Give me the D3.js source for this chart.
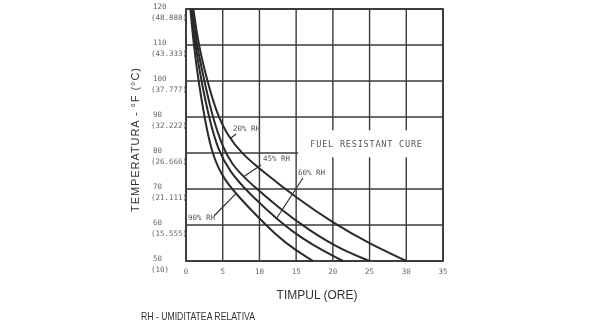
<!DOCTYPE html>
<html>
<head>
<meta charset="utf-8">
<script src="https://cdn.jsdelivr.net/npm/d3@7/dist/d3.min.js"></script>
<style>
  html, body { margin: 0; padding: 0; background: #fff; }
  svg { display: block; }
</style>
</head>
<body>
<svg id="chart" width="605" height="330"></svg>
<script>
// Cure time (hours) vs. temperature (°F) for several relative humidities
const hourTicks = [0, 5, 10, 15, 20, 25, 30, 35];
const tempTicksF = [50, 60, 70, 80, 90, 100, 110, 120];
const tempTicksC = ["(10)", "(15.555)", "(21.111)", "(26.666)", "(32.222)", "(37.777)", "(43.333)", "(48.888)"];

const seriesNames = ["20% RH", "45% RH", "60% RH", "90% RH"];
const rh20 = [[1.0,120],[1.7,110],[2.9,100],[4.1,91.5],[5.6,85],[7.6,79.8],[10.5,74.8],[15,67.6],[20,60.6],[25,54.8],[30,50]];
const rh45 = [[0.85,120],[1.45,110],[2.5,100],[3.6,90],[5.0,81.5],[6.3,76.8],[7.8,73.3],[12.8,64.4],[17,58.2],[21,53.3],[25,50]];
const rh60 = [[0.7,120],[1.25,110],[2.1,100],[3.1,90],[4.4,80.5],[6,74.8],[8.3,69.3],[12.8,60.8],[16,56],[18.7,52.8],[21.4,50]];
const rh90 = [[0.6,120],[1.05,110],[1.7,100],[2.5,90],[3.5,80],[5,72.8],[8.3,65.3],[12.4,56.9],[14.85,53.1],[17.3,50]];
const seriesValues = [rh20, rh45, rh60, rh90];

const boxText = "FUEL RESISTANT CURE";
const xTitle = "TIMPUL (ORE)";
const yTitle = "TEMPERATURA - °F (°C)";
const footnote = "RH - UMIDITATEA RELATIVA";

const svg = d3.select("#chart");
const x = d3.scaleLinear().domain([0, 35]).range([186, 443]);
const y = d3.scaleLinear().domain([50, 120]).range([261, 9]);

const ink = "#3a3a3a";
svg.append("defs").append("filter").attr("id", "soft")
  .append("feGaussianBlur").attr("stdDeviation", 0.35);
const g = svg.append("g").attr("filter", "url(#soft)");

// grid
g.append("g").selectAll("line").data(hourTicks).join("line")
  .attr("x1", d => x(d)).attr("x2", d => x(d))
  .attr("y1", y(120)).attr("y2", y(50))
  .attr("stroke", ink).attr("stroke-width", 1.4);
g.append("g").selectAll("line").data(tempTicksF).join("line")
  .attr("x1", x(0)).attr("x2", x(35))
  .attr("y1", d => y(d)).attr("y2", d => y(d))
  .attr("stroke", ink).attr("stroke-width", 1.4);

// label panel
g.append("rect")
  .attr("x", x(15) + 2).attr("y", y(86.3))
  .attr("width", x(35) - x(15) - 3).attr("height", y(78.8) - y(86.3))
  .attr("fill", "#fff");
g.append("text")
  .attr("x", (x(15) + x(35)) / 2 - 3).attr("y", y(82.5) + 3)
  .attr("text-anchor", "middle")
  .attr("font-family", "DejaVu Sans Mono").attr("font-size", 8.5)
  .attr("letter-spacing", 0.8).attr("fill", "#555")
  .text(boxText);

// frame
g.append("rect")
  .attr("x", x(0)).attr("y", y(120))
  .attr("width", x(35) - x(0)).attr("height", y(50) - y(120))
  .attr("fill", "none").attr("stroke", ink).attr("stroke-width", 1.8);

// curves
const line = d3.line().x(d => x(d[0])).y(d => y(d[1])).curve(d3.curveBasis);
g.append("g").selectAll("path").data(seriesValues).join("path")
  .attr("d", line)
  .attr("fill", "none").attr("stroke", "#2a2a2a").attr("stroke-width", 2);

// value on a curve at a given hour
function tempAt(pts, h) {
  for (let i = 1; i < pts.length; i++) {
    if (h <= pts[i][0]) {
      const [h0, t0] = pts[i - 1], [h1, t1] = pts[i];
      return t0 + (t1 - t0) * (h - h0) / (h1 - h0);
    }
  }
  return pts[pts.length - 1][1];
}

// curve labels with leader lines
const labelPlace = [
  { tx: 233, ty: 131, lx: 236, ly: 134, h: 6.0 },
  { tx: 263, ty: 161, lx: 261, ly: 165, h: 7.8 },
  { tx: 298, ty: 175, lx: 303, ly: 178, h: 12.3 },
  { tx: 188, ty: 220, lx: 214, ly: 216, h: 6.8 }
];
seriesNames.forEach((name, i) => {
  const p = labelPlace[i];
  g.append("line")
    .attr("x1", p.lx).attr("y1", p.ly)
    .attr("x2", x(p.h)).attr("y2", y(tempAt(seriesValues[i], p.h)))
    .attr("stroke", "#333").attr("stroke-width", 1.2);
  if (i === 3) {
    g.append("rect").attr("x", p.tx - 1).attr("y", p.ty - 7)
      .attr("width", 27).attr("height", 9).attr("fill", "#fff");
  }
  g.append("text")
    .attr("x", p.tx).attr("y", p.ty)
    .attr("font-family", "DejaVu Sans Mono").attr("font-size", 7.5)
    .attr("fill", "#555").text(name);
});

// x tick labels
g.append("g").selectAll("text").data(hourTicks).join("text")
  .attr("x", d => x(d)).attr("y", 274)
  .attr("text-anchor", "middle")
  .attr("font-family", "DejaVu Sans Mono").attr("font-size", 7.5)
  .attr("fill", "#666").text(d => d);

// y tick labels (°F over °C)
const yl = g.append("g").selectAll("g").data(tempTicksF).join("g");
yl.append("text")
  .attr("x", 153).attr("y", d => y(d))
  .attr("font-family", "DejaVu Sans Mono").attr("font-size", 7.5)
  .attr("fill", "#666").text(d => d);
yl.append("text")
  .attr("x", 151).attr("y", d => y(d) + 11)
  .attr("font-family", "DejaVu Sans Mono").attr("font-size", 7.5)
  .attr("fill", "#666").text((d, i) => tempTicksC[i]);

// axis titles
g.append("text")
  .attr("transform", "translate(139, 140) rotate(-90)")
  .attr("text-anchor", "middle")
  .attr("font-family", "Liberation Sans").attr("font-size", 11)
  .attr("textLength", 144).attr("lengthAdjust", "spacing")
  .attr("fill", "#333").text(yTitle);
g.append("text")
  .attr("x", 317).attr("y", 299)
  .attr("text-anchor", "middle")
  .attr("font-family", "Liberation Sans").attr("font-size", 12)
  .attr("fill", "#333").text(xTitle);
g.append("text")
  .attr("x", 141).attr("y", 320)
  .attr("font-family", "Liberation Sans").attr("font-size", 10.5)
  .attr("textLength", 114).attr("lengthAdjust", "spacingAndGlyphs")
  .attr("fill", "#333").text(footnote);
</script>
</body>
</html>
